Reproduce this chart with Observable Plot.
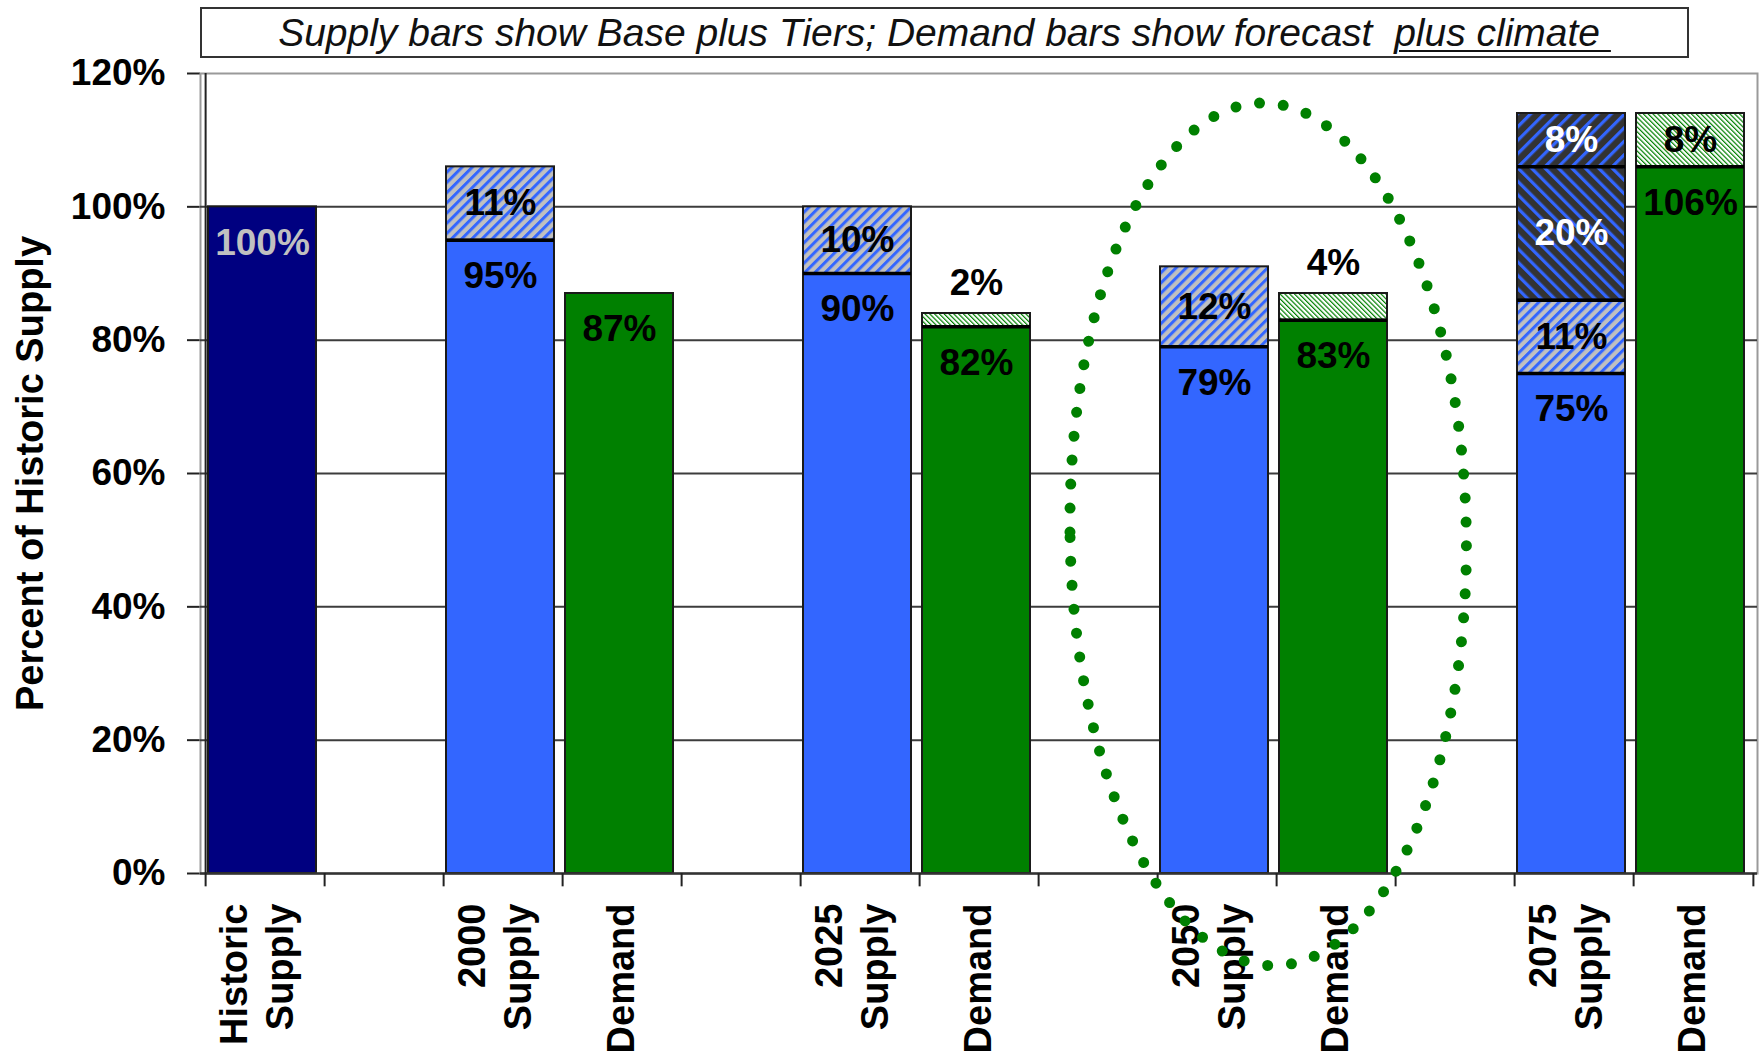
<!DOCTYPE html>
<html>
<head>
<meta charset="utf-8">
<script src="https://cdn.jsdelivr.net/npm/d3@7"></script>
<script src="https://cdn.jsdelivr.net/npm/@observablehq/plot@0.6"></script>
<style>
  body { margin: 0; background: #fff; }
  #wrap { width: 1759px; }
  #title { height: 60px; box-sizing: border-box; padding-top: 7px; }
  #title .box {
    margin-left: 200px; width: 1489px; height: 51px; box-sizing: border-box;
    border: 2px solid #333; display: flex; align-items: center; justify-content: center;
    font: italic 39px "Liberation Sans", Arial, sans-serif; color: #111; white-space: pre;
  }
  #title u { text-underline-offset: 4px; text-decoration-thickness: 2px; }
</style>
</head>
<body>
<div id="wrap">
  <div id="title"><div class="box"></div></div>
  <div id="chart"></div>
</div>
<script>
// Category slots along the x axis (blank slots separate the year groups)
const slotIds    = ["hist", "gapA", "s2000", "d2000", "gapB", "s2025", "d2025", "gapC", "s2050", "d2050", "gapD", "s2075", "d2075"];
const slotLabels = ["Historic\nSupply", "", "2000\nSupply", "Demand", "", "2025\nSupply", "Demand", "", "2050\nSupply", "Demand", "", "2075\nSupply", "Demand"];

// Bars and their stacked components (percent of historic supply)
const barIds        = ["hist", "s2000", "d2000", "s2025", "d2025", "s2050", "d2050", "s2075", "d2075"];
const barKinds      = ["historic", "supply", "demand", "supply", "demand", "supply", "demand", "supply", "demand"];
const baseValues    = [100, 95, 87, 90, 82, 79, 83, 75, 106];
const tier1Values   = [0, 11, 0, 10, 0, 12, 0, 11, 0];
const tier2Values   = [0, 0, 0, 0, 0, 0, 0, 20, 0];
const tier3Values   = [0, 0, 0, 0, 0, 0, 0, 8, 0];
const climateValues = [0, 0, 0, 0, 2, 0, 4, 0, 8];

const yTicks = [0, 20, 40, 60, 80, 100, 120];
const titleLead = "Supply bars show Base plus Tiers; Demand bars show forecast  ";
const titleUnderlined = "plus climate ";
const yTitle = "Percent of Historic Supply";

// Styling
const FONT = '"Liberation Sans", Arial, sans-serif';
const baseFill = {historic: "#000080", supply: "#3366FF", demand: "#008000"};
const baseLabelColor = {historic: "#C0C0C0", supply: "#000", demand: "#000"};

// Title box
const box = document.querySelector("#title .box");
box.append(document.createTextNode(titleLead));
const u = document.createElement("u");
u.textContent = titleUnderlined;
box.append(u);

// Stack the components of each bar
const segments = [], joins = [];
barIds.forEach((id, i) => {
  let y = 0;
  const add = (v, fill, layer, labelColor) => {
    if (!v) return;
    if (y > 0) joins.push({slot: id, y});
    segments.push({slot: id, y1: y, y2: y + v, value: v, fill, layer, labelColor});
    y += v;
  };
  add(baseValues[i], baseFill[barKinds[i]], "base", baseLabelColor[barKinds[i]]);
  add(tier1Values[i], "url(#tier1)", "tier", "#000");
  add(tier2Values[i], "url(#tier2)", "tier", "#fff");
  add(tier3Values[i], "url(#tier3)", "tier", "#fff");
  add(climateValues[i], "url(#climate)", "climate", "#000");
});
const pct = d => `${d.value}%`;
const baseLabels  = segments.filter(d => d.layer === "base");
const midLabels   = segments.filter(d => d.layer === "tier" || (d.layer === "climate" && d.value >= 5));
const aboveLabels = segments.filter(d => d.layer === "climate" && d.value < 5);

const oneLine = slotIds.filter((d, i) => slotLabels[i] && !slotLabels[i].includes("\n"));
const twoLine = slotIds.filter((d, i) => slotLabels[i].includes("\n"));
const labelOf = d => slotLabels[slotIds.indexOf(d)];

const W = 1759, H = 997, ML = 200, MR = 2, MT = 13, MB = 184;
const step = (W - ML - MR) / slotIds.length;
const barShift = -3;

const labelStyle = {fontSize: 37, fontWeight: "bold"};
const catStyle = {
  x: d => d, text: labelOf, frameAnchor: "bottom", dy: 30,
  rotate: -90, textAnchor: "end", lineAnchor: "middle", lineHeight: 1.2,
  fontSize: 38, fontWeight: "bold", fill: "#000"
};

const plot = Plot.plot({
  width: W, height: H,
  marginLeft: ML, marginRight: MR, marginTop: MT, marginBottom: MB,
  style: {fontFamily: FONT, fontSize: "37px", fontWeight: "bold", color: "#000", background: "#fff", overflow: "visible"},
  x: {type: "band", domain: slotIds, paddingInner: 0.095, paddingOuter: 0.0475, axis: null},
  y: {domain: [0, 120], ticks: yTicks, tickFormat: d => `${d}%`, tickSize: 13, tickPadding: 22, label: null},
  color: {type: "identity"},
  marks: [
    Plot.frame({stroke: "#9a9a9a", strokeWidth: 2}),
    Plot.ruleY(yTicks.filter(t => t > 0 && t < 120), {stroke: "#3c3c3c", strokeWidth: 2}),
    Plot.barY(segments, {x: "slot", y1: "y1", y2: "y2", dx: barShift, fill: "fill", stroke: "#1a1a1a", strokeWidth: 2}),
    Plot.tickY(joins, {x: "slot", y: "y", dx: barShift, stroke: "#000", strokeWidth: 3.5}),
    Plot.ruleY([0], {stroke: "#333", strokeWidth: 2.5}),
    Plot.ruleX([slotIds[0]], {x: d => d, y1: 0, y2: 120, dx: -step / 2, stroke: "#222", strokeWidth: 2}),
    Plot.ruleX(slotIds, {x: d => d, y1: 0, y2: -2, dx: -step / 2, stroke: "#222", strokeWidth: 2}),
    Plot.ruleX([slotIds[slotIds.length - 1]], {x: d => d, y1: 0, y2: -2, dx: step / 2, stroke: "#222", strokeWidth: 2}),
    Plot.text(baseLabels, {x: "slot", y: "y2", text: pct, fill: "labelColor", dx: barShift, dy: 36, ...labelStyle}),
    Plot.text(midLabels, {x: "slot", y: d => (d.y1 + d.y2) / 2, text: pct, fill: "labelColor", dx: barShift, ...labelStyle}),
    Plot.text(aboveLabels, {x: "slot", y: "y2", text: pct, fill: "labelColor", dx: barShift, dy: -30, ...labelStyle}),
    Plot.text(oneLine, {...catStyle, dx: -3}),
    Plot.text(twoLine, {...catStyle, dx: -10}),
    Plot.text([yTitle], {text: d => d, frameAnchor: "left", textAnchor: "middle", dx: -170, rotate: -90, fontSize: 38, fontWeight: "bold", fill: "#000"})
  ]
});

const svg = d3.select(plot);
svg.selectAll('g[aria-label="y-axis tick"]').attr("stroke", "#222").attr("stroke-width", 2);

// Hatch fills for the tier and climate components
const defs = svg.insert("defs", ":first-child");
function stripes(id, bg, fg, period, width, angle) {
  const p = defs.append("pattern").attr("id", id)
    .attr("patternUnits", "userSpaceOnUse")
    .attr("width", period).attr("height", period)
    .attr("patternTransform", `rotate(${angle})`);
  p.append("rect").attr("width", period).attr("height", period).attr("fill", bg);
  p.append("rect").attr("width", width).attr("height", period).attr("fill", fg);
}
stripes("tier1", "#C0C0C0", "#3366FF", 7.2, 3, 45);
stripes("tier2", "#333333", "#3366FF", 9.5, 3.2, -45);
stripes("tier3", "#333333", "#3366FF", 9.5, 3.2, 45);
stripes("climate", "#FFFFFF", "#008000", 3.4, 1.2, -45);

// Dotted ring around the 2050 pair
const ringMid = 50.8, ringHalfHeight = 64.7, ringHalfWidth = 1.665, ringShift = -0.07;
const xs = plot.scale("x"), ys = plot.scale("y");
const cx = xs.apply("s2050") + (xs.step + xs.bandwidth) / 2 + ringShift * xs.step;
const cy = ys.apply(ringMid);
const rx = ringHalfWidth * xs.step;
const ry = Math.abs(ys.apply(ringMid + ringHalfHeight) - cy);
svg.append("path")
  .attr("d", `M${cx - rx},${cy} A${rx},${ry} 0 1 0 ${cx + rx},${cy} A${rx},${ry} 0 1 0 ${cx - rx},${cy}`)
  .attr("transform", `rotate(-0.9 ${cx} ${cy})`)
  .attr("fill", "none").attr("stroke", "#008000").attr("stroke-width", 11)
  .attr("stroke-linecap", "round").attr("stroke-dasharray", "0 24");

document.getElementById("chart").append(plot);
</script>
</body>
</html>
